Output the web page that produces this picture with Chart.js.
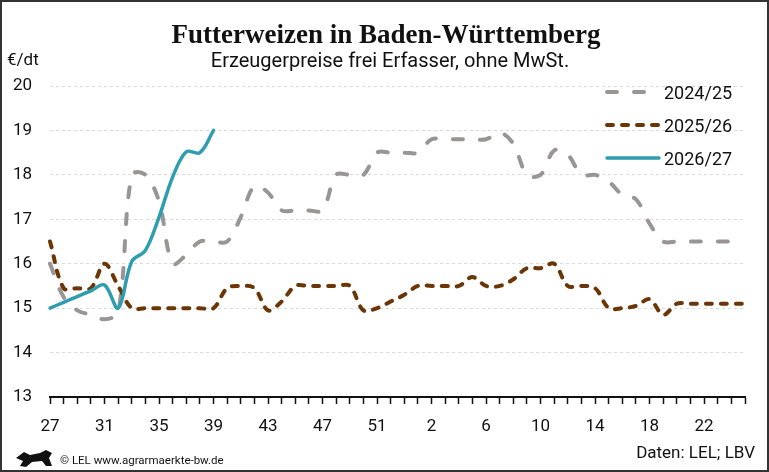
<!DOCTYPE html>
<html>
<head>
<meta charset="utf-8">
<title>Futterweizen in Baden-Württemberg</title>
<script src="https://cdn.jsdelivr.net/npm/chart.js@4.4.1/dist/chart.umd.min.js"></script>
<style>
body { margin: 0; background: #fff; }
#wrap { width: 769px; height: 472px; }
</style>
</head>
<body>
<div id="wrap"><canvas id="chart1" width="769" height="472"></canvas></div>
<script>
// Kalenderwochen 27..53, 1..25
const weeks = [27, 28, 29, 30, 31, 32, 33, 34, 35, 36, 37, 38, 39, 40, 41, 42, 43, 44, 45, 46, 47, 48, 49, 50, 51, 52, 53,
               1, 2, 3, 4, 5, 6, 7, 8, 9, 10, 11, 12, 13, 14, 15, 16, 17, 18, 19, 20, 21, 22, 23, 24, 25];
const seriesNames = ['2024/25', '2025/26', '2026/27'];
const price2425 = [16.0, 15.25, 14.95, 14.85, 14.75, 14.9, 18.0, 18.0, 17.4, 16.0, 16.2,
                   16.5, 16.5, 16.5, 17.05, 17.75, 17.6, 17.2, 17.2, 17.2, 17.2,
                   18.0, 18.0, 18.0, 18.5, 18.5, 18.5, 18.5, 18.8, 18.8, 18.8,
                   18.8, 18.8, 18.95, 18.7, 18.0, 18.0, 18.55, 18.45, 18.0, 18.0,
                   17.85, 17.55, 17.45, 16.9, 16.5, 16.5, 16.5, 16.5, 16.5, 16.5, null];
const price2526 = [16.5, 15.45, 15.45, 15.45, 16.0, 15.5, 15.0, 15.0, 15.0, 15.0, 15.0,
                   15.0, 15.0, 15.45, 15.5, 15.45, 14.95, 15.15, 15.5, 15.5, 15.5,
                   15.5, 15.5, 14.95, 15.0, 15.15, 15.3, 15.5, 15.5, 15.5, 15.5,
                   15.7, 15.5, 15.5, 15.65, 15.9, 15.9, 16.0, 15.5, 15.5, 15.45,
                   15.0, 15.0, 15.05, 15.2, 14.85, 15.1, 15.1, 15.1, 15.1, 15.1, 15.1];
const price2627 = [15.0, 15.13, 15.26, 15.39, 15.52, 15.0, 16.05, 16.3, 17.05, 17.95, 18.52, 18.5, 19.0];
const yTicks = [13, 14, 15, 16, 17, 18, 19, 20];

const titleText = 'Futterweizen in Baden-Württemberg';
const subText = 'Erzeugerpreise frei Erfasser, ohne MwSt.';

const ctx = document.getElementById('chart1').getContext('2d');

// Titel, Legende, Fusszeile, Rahmen
const decor = {
    id: 'decor',
    afterDraw(chart) {
        const c = chart.ctx;
        c.save();
        c.strokeStyle = '#333';
        c.lineWidth = 2;
        c.strokeRect(1, 1, 767, 470);

        c.fillStyle = '#111';
        c.textAlign = 'center';
        c.font = 'bold 27px "Liberation Serif", serif';
        c.fillText(titleText, 386, 43);
        c.font = '20px Roboto, sans-serif';
        c.fillText(subText, 390, 67);

        c.textAlign = 'left';
        c.font = '17px Roboto, sans-serif';
        c.fillText('€/dt', 7, 65);

        const legendY = [92, 125, 158];
        chart.data.datasets.forEach((ds, i) => {
            const y = legendY[i];
            c.strokeStyle = ds.borderColor;
            c.lineWidth = ds.borderWidth;
            c.lineCap = ds.borderCapStyle || 'butt';
            c.setLineDash(ds.borderDash || []);
            c.beginPath();
            c.moveTo(607, y);
            c.lineTo(659, y);
            c.stroke();
            c.setLineDash([]);
            c.fillStyle = '#111';
            c.font = '18px Roboto, sans-serif';
            c.fillText(ds.label, 664, y + 7);
        });

        c.textAlign = 'right';
        c.font = '17px Roboto, sans-serif';
        c.fillText('Daten: LEL; LBV', 755, 458);
        c.textAlign = 'left';
        c.font = '11.5px Roboto, sans-serif';
        c.fillText('© LEL www.agrarmaerkte-bw.de', 60, 464);

        // kleiner Loewe (grob)
        c.fillStyle = '#111';
        c.beginPath();
        c.moveTo(16, 458);
        c.lineTo(24, 452);
        c.lineTo(30, 455);
        c.lineTo(40, 453);
        c.lineTo(46, 450);
        c.lineTo(52, 453);
        c.lineTo(49, 458);
        c.lineTo(52, 466);
        c.lineTo(46, 466);
        c.lineTo(42, 461);
        c.lineTo(32, 462);
        c.lineTo(26, 467);
        c.lineTo(20, 466);
        c.lineTo(23, 461);
        c.closePath();
        c.fill();
        c.restore();
    }
};

new Chart(ctx, {
    type: 'line',
    data: {
        labels: weeks,
        datasets: [{
            label: seriesNames[0],
            data: price2425,
            borderColor: '#999595',
            borderWidth: 4,
            borderDash: [10, 17],
            borderCapStyle: 'round',
            order: 2
        }, {
            label: seriesNames[1],
            data: price2526,
            borderColor: '#6b3506',
            borderWidth: 4,
            borderDash: [6, 9],
            borderCapStyle: 'round',
            order: 1
        }, {
            label: seriesNames[2],
            data: price2627,
            borderColor: '#2e9db0',
            borderWidth: 3.5,
            borderCapStyle: 'round',
            order: 0
        }]
    },
    options: {
        responsive: false,
        animation: false,
        devicePixelRatio: 1,
        layout: { padding: { top: 86, right: 24, bottom: 0, left: 0 } },
        elements: {
            point: { radius: 0 },
            line: { tension: 0.35, fill: false }
        },
        plugins: {
            legend: { display: false },
            title: { display: false },
            tooltip: { enabled: false }
        },
        scales: {
            x: {
                afterFit(scale) { scale.height = 75; },
                grid: { display: true, drawOnChartArea: false, drawTicks: true, tickLength: 7, tickColor: '#111', tickWidth: 1.5 },
                border: { display: true, color: '#111', width: 2 },
                ticks: {
                    autoSkip: false,
                    maxRotation: 0,
                    padding: 13,
                    color: '#111',
                    font: { family: 'Roboto, sans-serif', size: 17 },
                    callback: (v, i) => (i % 4 === 0 ? String(weeks[i]) : '')
                }
            },
            y: {
                min: yTicks[0],
                max: yTicks[yTicks.length - 1],
                afterFit(scale) { scale.width = 50; },
                grid: { color: '#dadada', lineWidth: 1, drawTicks: false },
                border: { display: false, dash: [3, 3] },
                ticks: {
                    stepSize: 1,
                    padding: 18,
                    color: '#111',
                    font: { family: 'Roboto, sans-serif', size: 17 }
                }
            }
        }
    },
    plugins: [decor]
});
</script>
</body>
</html>
